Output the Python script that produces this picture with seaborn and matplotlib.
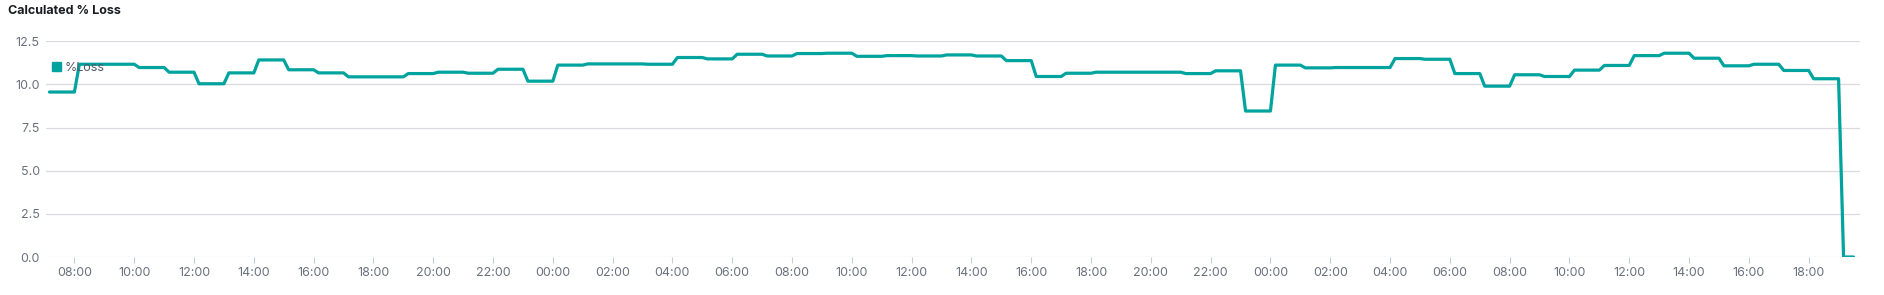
import matplotlib
matplotlib.use("Agg")
import matplotlib.pyplot as plt
import matplotlib.dates as mdates
from matplotlib.patches import Patch
import seaborn as sns
import pandas as pd

# Hourly values of % Loss (each value holds from HH:10 to HH+1:00)
day1_start = "2024-01-01 07:00"
day1_values = [9.56, 11.17, 11.17, 10.98, 10.71, 10.04, 10.67, 11.42, 10.85, 10.67,
               10.44, 10.44, 10.63, 10.71, 10.65, 10.88, 10.19]            # 07..23
day2_values = [11.12, 11.19, 11.19, 11.17, 11.56, 11.48, 11.75, 11.65, 11.79, 11.81,
               11.63, 11.67, 11.65, 11.71, 11.65, 11.38, 10.46, 10.65, 10.71, 10.71,
               10.71, 10.63, 10.79, 8.46]                                  # 00..23
day3_values = [11.12, 10.96, 10.98, 10.98, 11.50, 11.46, 10.63, 9.90, 10.56, 10.46,
               10.83, 11.10, 11.67, 11.81, 11.52, 11.08, 11.17, 10.81, 10.33, 0.0]  # 00..19
y_ticks = [0.0, 2.5, 5.0, 7.5, 10.0, 12.5]
title = "Calculated % Loss"
series_name = "%Loss"

values = day1_values + day2_values + day3_values
t0 = pd.Timestamp(day1_start)
times, vals = [], []
for i, v in enumerate(values):
    start = t0 + pd.Timedelta(hours=i, minutes=10)
    end = t0 + pd.Timedelta(hours=i + 1) if i < len(values) - 1 else start + pd.Timedelta(minutes=20)
    times += [start, end]
    vals += [v, v]
df = pd.DataFrame({"time": times, "loss": vals})

sns.set_theme(style="white")
plt.rcParams["font.family"] = ["Inter", "DejaVu Sans"]

W, H = 1884, 295
fig = plt.figure(figsize=(W / 100, H / 100), dpi=100)
ax = fig.add_axes([46 / W, 1 - 257 / H, (1860 - 46) / W, (257 - 41.3) / H])

color = "#00a39e"
sns.lineplot(data=df, x="time", y="loss", ax=ax, color=color, linewidth=2.3, legend=False)

ax.set_ylim(0, 12.5)
ax.set_yticks(y_ticks)
ax.set_yticklabels([f"{v:.1f}" for v in y_ticks])
ax.set_xlim(t0 + pd.Timedelta(minutes=3), t0 + pd.Timedelta(hours=60, minutes=43))
ax.xaxis.set_major_locator(mdates.HourLocator(byhour=range(0, 24, 2)))
ax.xaxis.set_major_formatter(mdates.DateFormatter("%H:%M"))

ax.grid(axis="y", color="#d8dadf", linewidth=0.9)
ax.grid(axis="x", visible=False)
for s in ax.spines.values():
    s.set_visible(False)
ax.tick_params(axis="x", bottom=True, length=4, width=0.8, color="#c8ccd3",
               labelsize=9, labelcolor="#6a717d", pad=3)
ax.tick_params(axis="y", left=False, length=0, labelsize=9, labelcolor="#6a717d", pad=4.5)
ax.set_xlabel("")
ax.set_ylabel("")

leg = ax.legend(handles=[Patch(facecolor=color, edgecolor=color)], labels=[series_name],
                loc="upper left", bbox_to_anchor=(0.0035, 0.905), frameon=False,
                handlelength=0.7, handleheight=0.7, handletextpad=0.3, borderpad=0,
                borderaxespad=0, fontsize=9)
for t in leg.get_texts():
    t.set_color("#535966")

fig.text(8 / W, 1 - 10.5 / H, title, ha="left", va="center", fontsize=9,
         fontweight="bold", color="#1a1c21")

fig.savefig("out.png", dpi=100, facecolor="white")
